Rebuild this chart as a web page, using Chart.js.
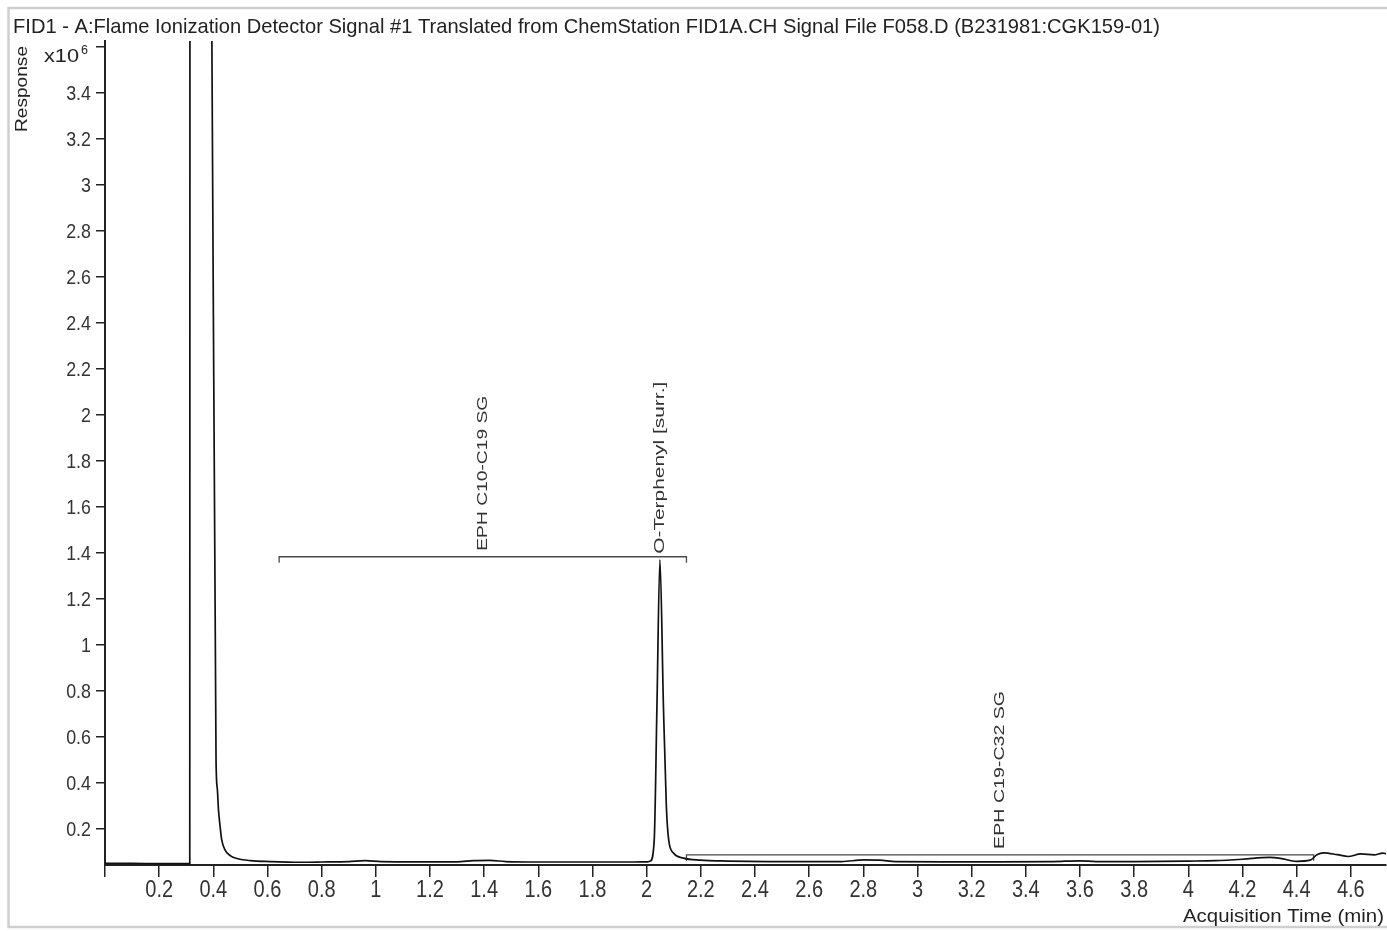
<!DOCTYPE html>
<html>
<head>
<meta charset="utf-8">
<script src="https://cdn.jsdelivr.net/npm/chart.js@4.4.1/dist/chart.umd.min.js"></script>
<style>
    body { margin: 0; background: #fff; }
    canvas { display: block; }
</style>
</head>
<body>
<canvas id="fidChart" width="1387" height="931"></canvas>
<script>
// DATA --------------------------------------------------------------------------------------
// acquisition time (min) and detector response (x10^6)
const timeMin = [
    0, 0.1, 0.2, 0.313, 0.3145, 0.392, 0.410, 0.415, 0.419, 0.425, 0.431, 0.443, 0.462, 0.491,
    0.536, 0.610, 0.720, 0.8, 0.9, 0.96, 1.02, 1.15, 1.3, 1.36, 1.42, 1.48, 1.6, 1.8, 1.95, 2.005,
    2.0136, 2.028, 2.038, 2.049, 2.062, 2.0728, 2.0813, 2.0998, 2.136, 2.198,
    2.3, 2.45, 2.6, 2.72, 2.8, 2.86, 2.92, 3.1, 3.3, 3.5, 3.6, 3.66, 3.8, 4.0, 4.1, 4.2, 4.3,
    4.34, 4.4, 4.45, 4.475, 4.5, 4.55, 4.59, 4.637, 4.686, 4.718, 4.73
];
const responseE6 = [
    0.050, 0.050, 0.049, 0.049, 9.0, 4.2, 0.50, 0.37, 0.283, 0.21, 0.152, 0.109, 0.084, 0.070,
    0.062, 0.058, 0.055, 0.056, 0.058, 0.062, 0.058, 0.057, 0.057, 0.062, 0.063, 0.058, 0.056, 0.056, 0.056, 0.057,
    0.060, 0.152, 0.732, 1.37, 0.732, 0.297, 0.152, 0.094, 0.073, 0.064,
    0.060, 0.058, 0.058, 0.058, 0.065, 0.064, 0.058, 0.057, 0.057, 0.058, 0.061, 0.058, 0.058, 0.060, 0.062, 0.068, 0.076,
    0.072, 0.059, 0.064, 0.088, 0.096, 0.088, 0.080, 0.091, 0.087, 0.095, 0.092
];

// integration windows
const windowNames = ["EPH C10-C19 SG", "EPH C19-C32 SG"];
const windowStart = [0.643, 2.147];
const windowEnd = [2.147, 4.463];
const windowLevel = [1.383, 0.087];

// named peak
const peakName = "O-Terphenyl [surr.]";
const peakTime = 2.049;
const peakLevel = 1.383;

// axis ticks
const xTicks = [0, 0.2, 0.4, 0.6, 0.8, 1, 1.2, 1.4, 1.6, 1.8, 2, 2.2, 2.4, 2.6, 2.8, 3, 3.2, 3.4, 3.6, 3.8, 4, 4.2, 4.4, 4.6];
const yTicks = [0.2, 0.4, 0.6, 0.8, 1, 1.2, 1.4, 1.6, 1.8, 2, 2.2, 2.4, 2.6, 2.8, 3, 3.2, 3.4, 3.6];

const titleText = "FID1 - A:Flame Ionization Detector Signal #1 Translated from ChemStation FID1A.CH Signal File F058.D (B231981:CGK159-01)";

const FONT = '"Liberation Sans", Arial, sans-serif';

// draw text squeezed/stretched to a given length (the source picture is not square-pixeled)
function fitText(ctx, text, x, y, size, len, align, angle, baseline) {
    ctx.save();
    ctx.font = size + 'px ' + FONT;
    const w = ctx.measureText(text).width;
    ctx.translate(x, y);
    if (angle) ctx.rotate(angle);
    ctx.scale(len / w, 1);
    ctx.textAlign = align;
    ctx.textBaseline = baseline || 'alphabetic';
    ctx.fillText(text, 0, 0);
    ctx.restore();
}

// same thing but with a fixed squeeze factor
function squishText(ctx, text, x, y, size, sx, align) {
    ctx.save();
    ctx.font = size + 'px ' + FONT;
    ctx.translate(x, y);
    ctx.scale(sx, 1);
    ctx.textAlign = align;
    ctx.textBaseline = 'alphabetic';
    ctx.fillText(text, 0, 0);
    ctx.restore();
}

// ANNOTATIONS -------------------------------------------------------------------------------
const chromPlugin = {
    id: 'chromText',
    afterDraw(chart) {
        const ctx = chart.ctx;
        const xs = chart.scales.x;
        const ys = chart.scales.y;

        // frame
        ctx.save();
        ctx.strokeStyle = '#cfcfcf';
        ctx.lineWidth = 2.5;
        ctx.strokeRect(8.5, 8, 1400, 919);
        ctx.restore();

        // tick labels, narrow like the original
        ctx.fillStyle = '#333';
        xs.ticks.forEach(t => {
            if (!t.label) return;
            squishText(ctx, t.label, xs.getPixelForValue(t.value), xs.top + 32, 23, 0.87, 'center');
        });
        ys.ticks.forEach(t => {
            if (!t.label) return;
            squishText(ctx, t.label, ys.right - 14, ys.getPixelForValue(t.value) + 7.5, 21, 0.85, 'right');
        });

        ctx.fillStyle = '#222';
        fitText(ctx, titleText, 13, 33, 21, 1147, 'left');
        fitText(ctx, 'Response', 27, 132, 16, 86, 'left', -Math.PI / 2);

        // x10^6 sits on the top tick
        const top = ys.getPixelForValue(3.6);
        fitText(ctx, 'x10', 79, top + 15, 18, 35, 'right');
        fitText(ctx, '6', 81, top + 7, 12, 7, 'left');

        fitText(ctx, 'Acquisition Time (min)', 1384, 922, 18, 201, 'right');

        // window + peak labels, rotated
        ctx.fillStyle = '#333';
        const lens = [155, 158];
        windowNames.forEach((name, i) => {
            const cx = xs.getPixelForValue((windowStart[i] + windowEnd[i]) / 2);
            const by = ys.getPixelForValue(windowLevel[i]) - 6;
            fitText(ctx, name, cx, by, 15, lens[i], 'left', -Math.PI / 2, 'middle');
        });
        fitText(ctx, peakName, xs.getPixelForValue(peakTime), ys.getPixelForValue(peakLevel) - 3, 15, 172, 'left', -Math.PI / 2, 'middle');
    }
};

// CHART -------------------------------------------------------------------------------------
document.addEventListener('DOMContentLoaded', () => {
    const ctx = document.getElementById('fidChart').getContext('2d');

    const signal = timeMin.map((t, i) => ({ x: t, y: responseE6[i] }));

    // bracket lines with little end ticks (about 6px down)
    const tickDrop = 0.026;
    const brackets = windowNames.map((name, i) => ({
        label: name,
        data: [
            { x: windowStart[i], y: windowLevel[i] - tickDrop },
            { x: windowStart[i], y: windowLevel[i] },
            { x: windowEnd[i], y: windowLevel[i] },
            { x: windowEnd[i], y: windowLevel[i] - tickDrop }
        ],
        borderColor: '#4a4a4a',
        borderWidth: 1.3,
        pointRadius: 0,
        tension: 0
    }));

    new Chart(ctx, {
        type: 'line',
        data: {
            datasets: [{
                label: 'FID1',
                data: signal,
                borderColor: '#111',
                borderWidth: 1.7,
                pointRadius: 0,
                cubicInterpolationMode: 'monotone'
            }, ...brackets]
        },
        options: {
            responsive: false,
            animation: false,
            events: [],
            layout: { padding: { top: 41, right: 1, left: 0, bottom: 0 } },
            plugins: {
                legend: { display: false },
                tooltip: { enabled: false }
            },
            scales: {
                x: {
                    type: 'linear',
                    min: 0,
                    max: 4.73,
                    afterBuildTicks: scale => { scale.ticks = xTicks.map(v => ({ value: v })); },
                    afterFit: scale => { scale.height = 66; },
                    grid: { drawOnChartArea: false, tickLength: 12, color: '#222', lineWidth: 1.5 },
                    border: { color: '#222', width: 2 },
                    ticks: {
                        autoSkip: false,
                        maxRotation: 0,
                        color: 'rgba(0,0,0,0)',
                        font: { family: FONT, size: 20 },
                        callback: v => v === 0 ? '' : String(Math.round(v * 10) / 10)
                    }
                },
                y: {
                    min: 0.043,
                    max: 3.625,
                    afterBuildTicks: scale => { scale.ticks = yTicks.map(v => ({ value: v })); },
                    afterFit: scale => { scale.width = 105; },
                    grid: { drawOnChartArea: false, tickLength: 9, color: '#222', lineWidth: 1.5 },
                    border: { color: '#222', width: 2 },
                    ticks: {
                        padding: 5,
                        color: 'rgba(0,0,0,0)',
                        font: { family: FONT, size: 20 },
                        callback: v => v === 3.6 ? '' : String(Math.round(v * 10) / 10)
                    }
                }
            }
        },
        plugins: [chromPlugin]
    });
});
</script>
</body>
</html>
